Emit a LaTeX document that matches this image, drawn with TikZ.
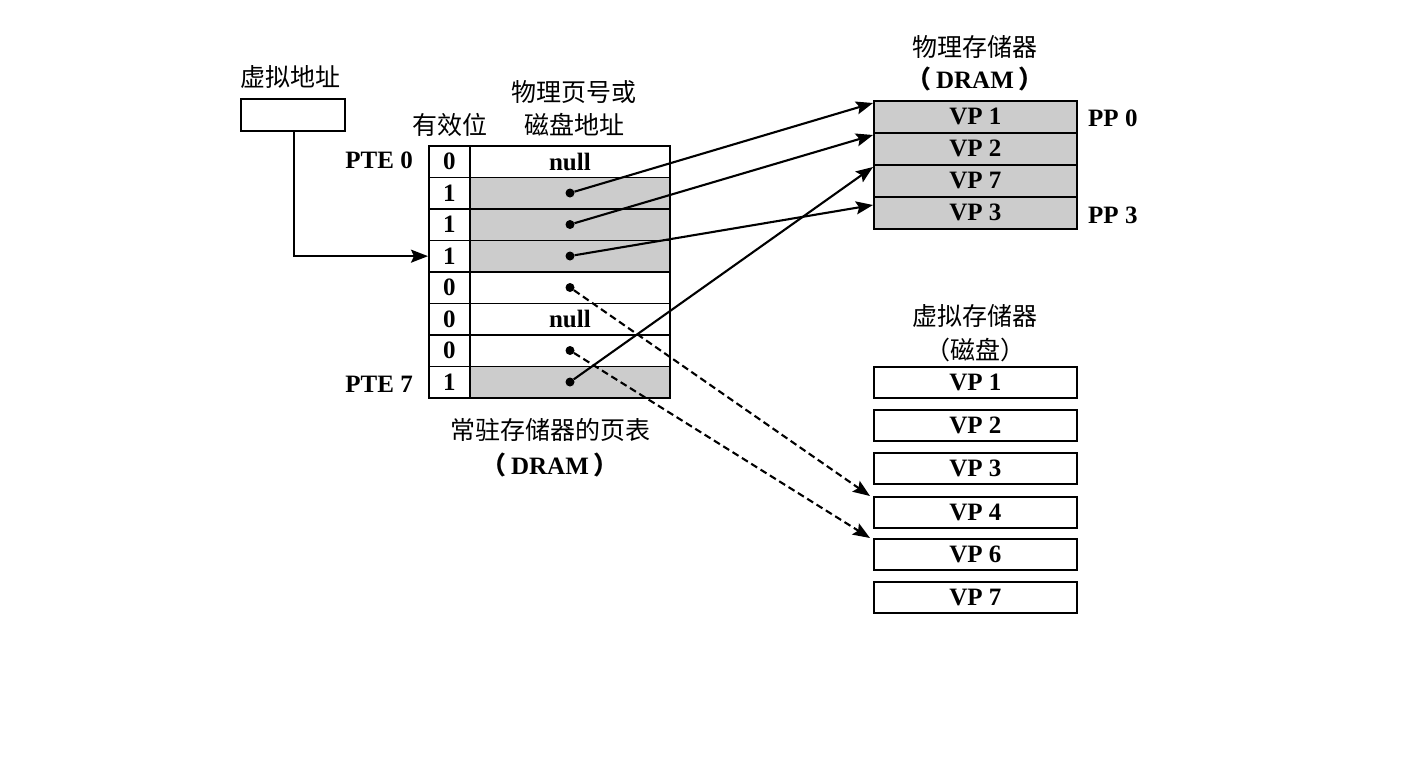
\documentclass[tikz,border=0pt]{standalone}
\usepackage{fontspec}
\setmainfont{Liberation Serif}
\newfontfamily\cjk{Noto Sans CJK SC}
\usetikzlibrary{arrows.meta}
\tikzset{
  lbl/.style={inner sep=0pt, font=\fontsize{25}{28}\selectfont\bfseries},
  cjklbl/.style={inner sep=0pt, font=\fontsize{25}{28}\selectfont\cjk},
  cellfont/.style={font=\fontsize{25}{28}\selectfont\bfseries},
  vcell/.style={draw, line width=1.8pt, minimum width=41pt, minimum height=31.5pt, inner sep=0pt, anchor=north west, cellfont},
  acell/.style={draw, line width=1.8pt, minimum width=200pt, minimum height=31.5pt, inner sep=0pt, anchor=north west, cellfont},
  shade/.style={fill=black!20},
  pmcell/.style={draw, line width=1.8pt, fill=black!20, minimum width=203pt, minimum height=32pt, inner sep=0pt, anchor=north west, cellfont},
  vmcell/.style={draw, line width=1.8pt, minimum width=203pt, minimum height=31pt, inner sep=0pt, anchor=north west, cellfont},
  pdot/.style={circle, fill=black, inner sep=0pt, minimum size=9pt},
  arr/.style={line width=2.1pt, -{Stealth[length=17pt,width=13pt,inset=3pt]}},
  darr/.style={arr, dash pattern=on 7pt off 4pt},
}
\begin{document}
\begin{tikzpicture}[x=1pt,y=-1pt]
\useasboundingbox (0,0) rectangle (1424,756);
% virtual address
\node[cjklbl] (vatitle) at (290,77) {虚拟地址};
\node[draw, line width=1.8pt, minimum width=104pt, minimum height=32pt, inner sep=0pt, anchor=north west] (va) at (240,98) {};
% headers
\node[cjklbl] (hvalid) at (450,125) {有效位};
\node[cjklbl] (haddr1) at (574,92) {物理页号或};
\node[cjklbl] (haddr2) at (574,125) {磁盘地址};
% table
\node[vcell] (v0) at (428,145) {0};
\node[acell] (a0) at (469,145) {null};
\node[vcell] (v1) at (428,176.5) {1};
\node[acell,shade] (a1) at (469,176.5) {};
\node[vcell] (v2) at (428,208) {1};
\node[acell,shade] (a2) at (469,208) {};
\node[vcell] (v3) at (428,239.5) {1};
\node[acell,shade] (a3) at (469,239.5) {};
\node[vcell] (v4) at (428,271) {0};
\node[acell] (a4) at (469,271) {};
\node[vcell] (v5) at (428,302.5) {0};
\node[acell] (a5) at (469,302.5) {null};
\node[vcell] (v6) at (428,334) {0};
\node[acell] (a6) at (469,334) {};
\node[vcell] (v7) at (428,365.5) {1};
\node[acell,shade] (a7) at (469,365.5) {};
\node[lbl, anchor=east] (pte0) at (413,160) {PTE 0};
\node[lbl, anchor=east] (pte7) at (413,384) {PTE 7};
\node[cjklbl] (pttitle) at (550,430) {常驻存储器的页表};
\node[lbl] (ptdram) at (550,465) {{\cjk （}\,DRAM\,{\cjk ）}};
% dots
\node[pdot] (d1) at (570,193) {};
\node[pdot] (d2) at (570,224.5) {};
\node[pdot] (d3) at (570,256) {};
\node[pdot] (d4) at (570,287.5) {};
\node[pdot] (d6) at (570,350.5) {};
\node[pdot] (d7) at (570,382) {};
% physical memory
\node[cjklbl] (pmtitle) at (975,47) {物理存储器};
\node[lbl] (pmdram) at (975,79) {{\cjk （}\,DRAM\,{\cjk ）}};
\node[pmcell] (pm0) at (873,100) {VP 1};
\node[pmcell] (pm1) at (873,132) {VP 2};
\node[pmcell] (pm2) at (873,164) {VP 7};
\node[pmcell] (pm3) at (873,196) {VP 3};
\node[lbl, anchor=west] (pp0) at (1088,118) {PP 0};
\node[lbl, anchor=west] (pp3) at (1088,215) {PP 3};
% virtual memory
\node[cjklbl] (vmtitle) at (975,316) {虚拟存储器};
\node[cjklbl] (vmdisk) at (975,350) {（磁盘）};
\node[vmcell] (vm1) at (873,366) {VP 1};
\node[vmcell] (vm2) at (873,409) {VP 2};
\node[vmcell] (vm3) at (873,452) {VP 3};
\node[vmcell] (vm4) at (873,496) {VP 4};
\node[vmcell] (vm6) at (873,538) {VP 6};
\node[vmcell] (vm7) at (873,581) {VP 7};
% connectors
\draw[arr] ([xshift=-52pt]va.south east) |- (v3.west);
\draw[arr] (d1) -- ([yshift=-3pt]pm0.north west);
\draw[arr] (d2) -- ([yshift=-3pt]pm1.north west);
\draw[arr] (d3) -- ([yshift=-9pt]pm3.north west);
\draw[arr] (d7) -- ([yshift=-3pt]pm2.north west);
\draw[darr] (d4) -- ([xshift=-3pt]vm4.north west);
\draw[darr] (d6) -- ([xshift=-3pt]vm6.north west);
\end{tikzpicture}
\end{document}
